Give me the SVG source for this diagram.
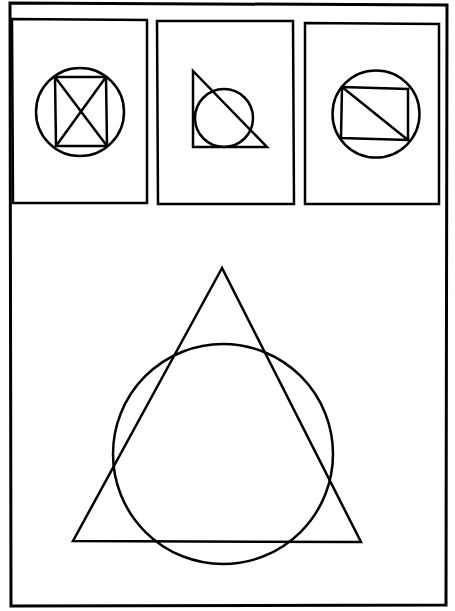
<svg xmlns="http://www.w3.org/2000/svg" width="455" height="611" viewBox="0 0 455 611">
<style>
.s{fill:none;stroke:#000;stroke-width:2.5;stroke-linejoin:miter}
.f{fill:none;stroke:#000;stroke-width:3}
</style>
<rect width="455" height="611" fill="#fff"/>
<g id="frame"><polygon class="f" points="10,3 447,5 446,605 11,606"/></g>
<g id="panel1">
<polygon class="s" points="12,19 147,20 147,203 13,203"/>
<circle class="s" cx="80" cy="112" r="44"/>
<polygon class="s" points="55,77 106,77 107,146 56,146"/>
<line class="s" x1="55" y1="77" x2="107" y2="146"/>
<line class="s" x1="106" y1="77" x2="56" y2="146"/>
</g>
<g id="panel2">
<polygon class="s" points="157,21 293,21 294,204 158,204"/>
<polygon class="s" points="193,71 193,147 267,147"/>
<circle class="s" cx="224" cy="118" r="29"/>
</g>
<g id="panel3">
<polygon class="s" points="305,23 439,24 439,204 305,204"/>
<circle class="s" cx="376" cy="114" r="43.5"/>
<polygon class="s" points="342,87 408,89 408,140 341,138"/>
<line class="s" x1="342" y1="87" x2="408" y2="140"/>
</g>
<g id="main">
<polygon class="s" points="222,268 73,541 361,542"/>
<circle class="s" cx="223" cy="454" r="110"/>
</g>
<g id="connectors"></g>
</svg>
